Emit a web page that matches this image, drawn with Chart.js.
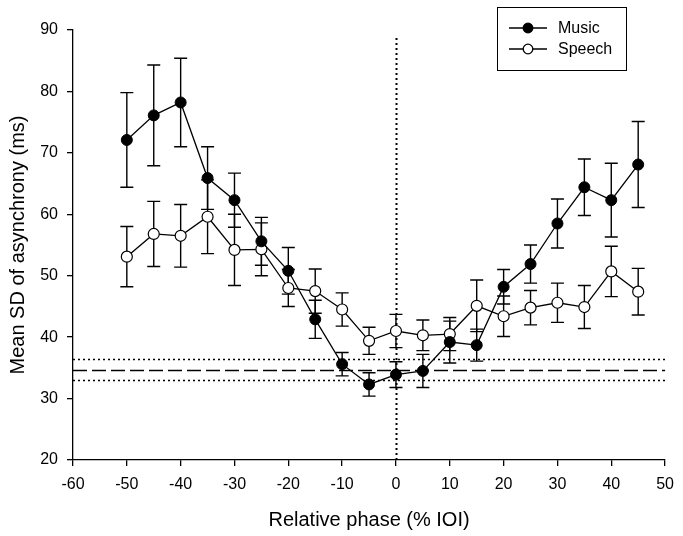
<!DOCTYPE html>
<html>
<head>
<meta charset="utf-8">
<script src="https://cdn.jsdelivr.net/npm/chart.js@4.4.0/dist/chart.umd.min.js"></script>
<style>
  body { margin: 0; background: #fff; }
  #wrap { width: 683px; height: 536px; }
</style>
</head>
<body>
<div id="wrap"><canvas id="myChart" width="683" height="536"></canvas></div>
<script>
var phases = [-50, -45, -40, -35, -30, -25, -20, -15, -10, -5, 0, 5, 10, 15, 20, 25, 30, 35, 40, 45];

var musicMean = [72.1, 76.1, 78.2, 65.9, 62.3, 55.6, 50.8, 42.9, 35.6, 32.3, 33.9, 34.5, 39.2, 38.7, 48.2, 51.9, 58.5, 64.4, 62.3, 68.1];
var musicErr  = [7.7, 8.2, 7.2, 5.1, 4.4, 3.9, 3.8, 3.1, 1.9, 1.9, 2.1, 2.7, 3.4, 2.6, 2.8, 3.1, 4.0, 4.6, 6.0, 7.0];

var speechMean = [53.1, 56.8, 56.5, 59.6, 54.2, 54.3, 48.0, 47.5, 44.5, 39.4, 41.0, 40.3, 40.5, 45.1, 43.4, 44.8, 45.6, 44.9, 50.7, 47.4];
var speechErr  = [4.9, 5.3, 5.1, 6.0, 5.8, 4.3, 3.0, 3.6, 2.7, 2.2, 2.7, 2.5, 2.7, 4.2, 3.3, 2.8, 3.2, 3.5, 4.1, 3.8];

// reference lines (y values) and vertical marker at phase 0
var hDotted = [36.5, 33.1];
var hDashed = [34.6];
var vLineX = 0;
var vLineTop = 88.7;

var fontFam = '"Liberation Sans", Arial, sans-serif';

function points(means, errs) {
  var out = [];
  for (var i = 0; i < phases.length; i++) {
    out.push({x: phases[i], y: means[i], err: errs[i]});
  }
  return out;
}

var errorBars = {
  id: 'errorBars',
  beforeDatasetsDraw: function(chart) {
    var ctx = chart.ctx;
    var xs = chart.scales.x, ys = chart.scales.y;
    ctx.save();
    ctx.strokeStyle = '#000';
    ctx.lineWidth = 1.4;
    chart.data.datasets.forEach(function(ds) {
      ds.data.forEach(function(p) {
        var px = xs.getPixelForValue(p.x);
        var top = ys.getPixelForValue(p.y + p.err);
        var bot = ys.getPixelForValue(p.y - p.err);
        ctx.beginPath();
        ctx.moveTo(px, top); ctx.lineTo(px, bot);
        ctx.moveTo(px - 6.5, top); ctx.lineTo(px + 6.5, top);
        ctx.moveTo(px - 6.5, bot); ctx.lineTo(px + 6.5, bot);
        ctx.stroke();
      });
    });
    ctx.restore();
  }
};

var refLines = {
  id: 'refLines',
  beforeDatasetsDraw: function(chart) {
    var ctx = chart.ctx;
    var xs = chart.scales.x, ys = chart.scales.y;
    var a = chart.chartArea;
    ctx.save();
    ctx.strokeStyle = '#000';
    ctx.lineWidth = 1.5;
    ctx.setLineDash([2, 3]);
    hDotted.forEach(function(v) {
      var py = Math.round(ys.getPixelForValue(v)) + 0.5;
      ctx.beginPath(); ctx.moveTo(a.left, py); ctx.lineTo(a.right, py); ctx.stroke();
    });
    var vx = Math.round(xs.getPixelForValue(vLineX)) + 0.5;
    ctx.lineWidth = 2;
    ctx.beginPath(); ctx.moveTo(vx, ys.getPixelForValue(vLineTop)); ctx.lineTo(vx, a.bottom); ctx.stroke();
    ctx.lineWidth = 1.3;
    ctx.setLineDash([14, 5]);
    hDashed.forEach(function(v) {
      var py = Math.round(ys.getPixelForValue(v)) + 0.5;
      ctx.beginPath(); ctx.moveTo(a.left, py); ctx.lineTo(a.right, py); ctx.stroke();
    });
    ctx.restore();
  }
};

var boxLegend = {
  id: 'boxLegend',
  afterDraw: function(chart) {
    var ctx = chart.ctx;
    var x0 = 497, y0 = 7, w = 129, h = 63;
    ctx.save();
    ctx.strokeStyle = '#000';
    ctx.lineWidth = 1;
    ctx.strokeRect(x0 + 0.5, y0 + 0.5, w, h);
    ctx.font = '16px ' + fontFam;
    ctx.textBaseline = 'middle';
    chart.data.datasets.forEach(function(ds, i) {
      var cy = 28 + i * 21;
      ctx.lineWidth = 1.3;
      ctx.beginPath(); ctx.moveTo(509, cy); ctx.lineTo(547, cy); ctx.stroke();
      ctx.beginPath(); ctx.arc(528, cy, 4.8, 0, Math.PI * 2);
      ctx.fillStyle = ds.pointBackgroundColor; ctx.fill(); ctx.stroke();
      ctx.fillStyle = '#000';
      ctx.fillText(ds.label, 558, cy + 1);
    });
    ctx.restore();
  }
};

var ctx = document.getElementById("myChart");
var myChart = new Chart(ctx, {
  type: 'scatter',
  data: {
    datasets: [{
      label: 'Music',
      data: points(musicMean, musicErr),
      showLine: true,
      borderColor: '#000',
      borderWidth: 1.3,
      pointBackgroundColor: '#000',
      pointBorderColor: '#000',
      pointBorderWidth: 1,
      pointRadius: 5.5
    }, {
      label: 'Speech',
      data: points(speechMean, speechErr),
      showLine: true,
      borderColor: '#000',
      borderWidth: 1.3,
      pointBackgroundColor: '#fff',
      pointBorderColor: '#000',
      pointBorderWidth: 1.2,
      pointRadius: 5.5
    }]
  },
  options: {
    responsive: false,
    animation: false,
    layout: { padding: { left: 0, right: 16, top: 30, bottom: 0 } },
    plugins: {
      legend: { display: false },
      tooltip: { enabled: false }
    },
    scales: {
      x: {
        type: 'linear',
        min: -60, max: 50,
        afterFit: function(s) { s.height = 76; },
        border: { color: '#000', width: 1.3 },
        grid: { drawOnChartArea: false, color: '#000', tickLength: 6, lineWidth: 1.3 },
        ticks: { stepSize: 10, color: '#000', padding: 9, font: { family: fontFam, size: 16 } },
        title: { display: true, text: 'Relative phase (% IOI)', color: '#000', padding: { top: 6, bottom: 4 }, font: { family: fontFam, size: 20 } }
      },
      y: {
        min: 20, max: 90,
        afterFit: function(s) { s.width = 73; },
        border: { color: '#000', width: 1.3 },
        grid: { drawOnChartArea: false, color: '#000', tickLength: 6, lineWidth: 1.3 },
        ticks: { stepSize: 10, color: '#000', padding: 9, font: { family: fontFam, size: 16 } },
        title: { display: true, text: 'Mean SD of asynchrony (ms)', color: '#000', padding: { top: 6, bottom: 2 }, font: { family: fontFam, size: 20 } }
      }
    }
  },
  plugins: [refLines, errorBars, boxLegend]
});
</script>
</body>
</html>
